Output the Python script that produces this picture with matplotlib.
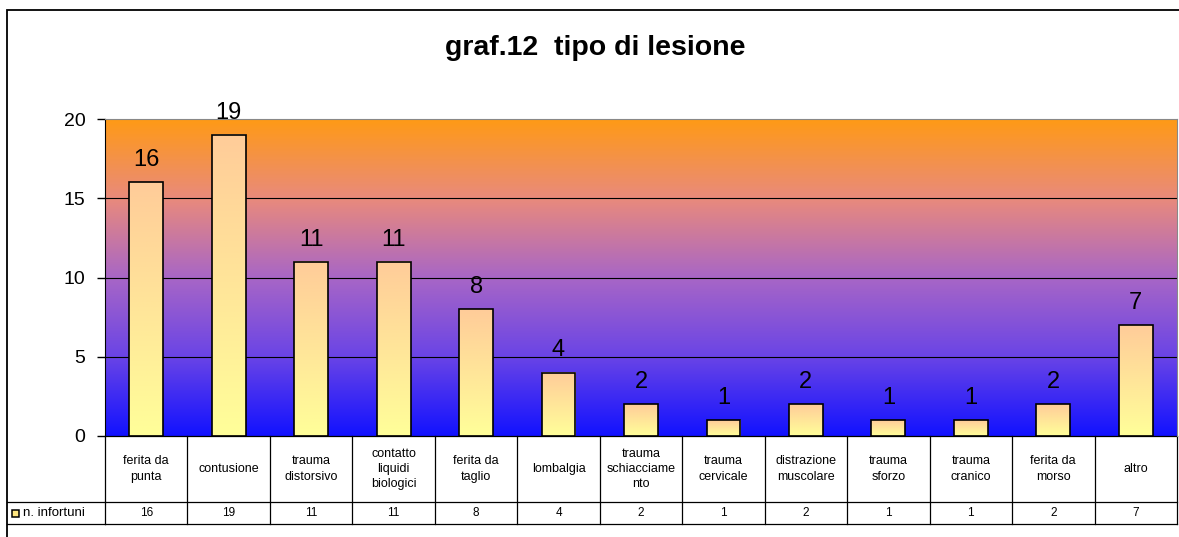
import numpy as np
import matplotlib
matplotlib.use("Agg")
import matplotlib.pyplot as plt
from matplotlib.colors import LinearSegmentedColormap
from matplotlib.patches import Rectangle
import matplotlib.transforms as mtransforms

plt.rcParams['font.family'] = ['Liberation Sans', 'DejaVu Sans']

# data
categories = ["ferita da\npunta", "contusione", "trauma\ndistorsivo", "contatto\nliquidi\nbiologici",
              "ferita da\ntaglio", "lombalgia", "trauma\nschiacciame\nnto", "trauma\ncervicale",
              "distrazione\nmuscolare", "trauma\nsforzo", "trauma\ncranico", "ferita da\nmorso", "altro"]
values = [16, 19, 11, 11, 8, 4, 2, 1, 2, 1, 1, 2, 7]
series_name = "n. infortuni"
title = "graf.12  tipo di lesione"
yticks = [0, 5, 10, 15, 20]

W, H = 1179, 537
fig = plt.figure(figsize=(W / 100, H / 100), dpi=100)

# outer chart frame
fig.patches.append(Rectangle((7 / W, -0.1), 1.2, (H - 10) / H + 0.1, transform=fig.transFigure,
                             fill=False, edgecolor="black", linewidth=1.3))

ax = fig.add_axes([105 / W, (H - 436) / H, (1177 - 105) / W, (436 - 119) / H])
n = len(values)

# background gradient of the plot area
bg_cmap = LinearSegmentedColormap.from_list(
    "bg", [(0.0, "#1212ff"), (0.25, "#6a44e6"), (0.5, "#a866c6"), (0.75, "#e98a7c"), (1.0, "#ff9a16")])
grad = np.linspace(0, 1, 256).reshape(-1, 1)
ax.imshow(grad, cmap=bg_cmap, origin="lower", aspect="auto",
          extent=[-0.5, n - 0.5, 0, 20], zorder=0)

for y in yticks[1:-1]:
    ax.axhline(y, color="black", linewidth=0.8, zorder=1)

# bars with vertical peach -> yellow gradient
bar_cmap = LinearSegmentedColormap.from_list("bar", ["#ffff99", "#ffcc99"])
bw = 0.41
for i, v in enumerate(values):
    ax.imshow(grad, cmap=bar_cmap, origin="lower", aspect="auto",
              extent=[i - bw / 2, i + bw / 2, 0, v], zorder=2)
    ax.add_patch(Rectangle((i - bw / 2, 0), bw, v, fill=False, edgecolor="black", linewidth=1.2, zorder=3))
    ax.annotate(str(v), (i, v), xytext=(0, 8), textcoords="offset points",
                ha="center", va="bottom", fontsize=17, zorder=4)

ax.set_xlim(-0.5, n - 0.5)
ax.set_ylim(0, 20)
ax.set_xticks([])
ax.set_yticks(yticks)
ax.tick_params(axis="y", labelsize=14, length=6, width=1, pad=8)
for s in ["top", "right"]:
    ax.spines[s].set_color("#888888")
ax.spines["left"].set_color("black")
ax.spines["bottom"].set_visible(False)

fig.text(595 / W, (H - 48) / H, title, ha="center", va="center", fontsize=20.5, fontweight="bold")

# data table under the chart
trans = mtransforms.blended_transform_factory(ax.transData, fig.transFigure)
y0 = (H - 436) / H
y1 = (H - 502) / H
y2 = (H - 524) / H
lw = 0.9
for yy in [y0, y1, y2]:
    ax.add_artist(plt.Line2D([-0.5, n - 0.5], [yy, yy], transform=trans, color="black", lw=lw, clip_on=False))
for i in range(n + 1):
    ax.add_artist(plt.Line2D([i - 0.5, i - 0.5], [y0, y2], transform=trans, color="black", lw=lw, clip_on=False))
for i, (c, v) in enumerate(zip(categories, values)):
    ax.text(i, (y0 + y1) / 2, c, transform=trans, ha="center", va="center",
            fontsize=9, linespacing=1.35, clip_on=False)
    ax.text(i, (y1 + y2) / 2, str(v), transform=trans, ha="center", va="center",
            fontsize=8.5, clip_on=False)

# legend cell
fig.add_artist(plt.Line2D([7 / W, 105 / W], [y1, y1], transform=fig.transFigure, color="black", lw=lw))
fig.add_artist(plt.Line2D([7 / W, 105 / W], [y2, y2], transform=fig.transFigure, color="black", lw=lw))
fig.patches.append(Rectangle((12 / W, (H - 517) / H), 7 / W, 7 / H, transform=fig.transFigure,
                             facecolor="#ffe680", edgecolor="black", linewidth=1.1))
fig.text(23 / W, (y1 + y2) / 2, series_name, ha="left", va="center", fontsize=9.5)

fig.savefig("out.png", dpi=100)
